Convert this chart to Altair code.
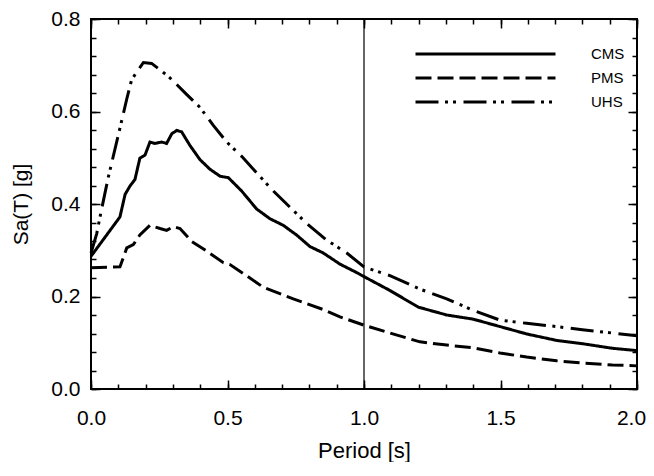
import altair as alt
import pandas as pd

# ---- data ----
cms_T = [0, 0.106, 0.125, 0.143, 0.161, 0.179, 0.198, 0.216, 0.234, 0.259, 0.277, 0.296, 0.314, 0.332,
         0.362, 0.399, 0.436, 0.473, 0.503, 0.552, 0.607, 0.656, 0.704, 0.753, 0.802, 0.851, 0.912,
         0.979, 1.0, 1.095, 1.199, 1.303, 1.40, 1.498, 1.596, 1.706, 1.80, 1.91, 2.0]
cms_Sa = [0.287, 0.372, 0.421, 0.439, 0.453, 0.499, 0.506, 0.534, 0.531, 0.534, 0.531, 0.552, 0.559, 0.556,
          0.527, 0.496, 0.475, 0.460, 0.457, 0.428, 0.389, 0.368, 0.354, 0.333, 0.308, 0.294, 0.270,
          0.250, 0.243, 0.213, 0.177, 0.160, 0.151, 0.135, 0.119, 0.105, 0.098, 0.088, 0.083]

pms_T = [0, 0.106, 0.131, 0.155, 0.179, 0.216, 0.253, 0.277, 0.302, 0.326, 0.369, 0.424, 0.485, 0.509,
         0.570, 0.631, 0.741, 0.85, 0.912, 1.0, 1.095, 1.205, 1.303, 1.40, 1.498, 1.596, 1.706, 1.80,
         1.91, 2.0]
pms_Sa = [0.262, 0.264, 0.305, 0.312, 0.333, 0.354, 0.347, 0.343, 0.351, 0.347, 0.319, 0.298, 0.273, 0.269,
          0.245, 0.220, 0.195, 0.172, 0.156, 0.138, 0.121, 0.102, 0.095, 0.089, 0.078, 0.069, 0.061, 0.056,
          0.052, 0.050]

uhs_T = [0, 0.021, 0.033, 0.063, 0.1, 0.131, 0.149, 0.192, 0.222, 0.283, 0.308, 0.350, 0.399, 0.448,
         0.497, 0.552, 0.607, 0.668, 0.729, 0.790, 0.863, 0.937, 1.0, 1.095, 1.205, 1.303, 1.40, 1.498,
         1.596, 1.706, 1.80, 1.91, 2.0]
uhs_Sa = [0.294, 0.336, 0.372, 0.457, 0.549, 0.627, 0.669, 0.706, 0.704, 0.676, 0.662, 0.637, 0.609, 0.570,
          0.534, 0.503, 0.467, 0.428, 0.393, 0.358, 0.322, 0.294, 0.264, 0.245, 0.216, 0.195, 0.170, 0.149,
          0.142, 0.135, 0.128, 0.121, 0.115]

series_names = ["CMS", "PMS", "UHS"]
ref_period = [1.0]

x_major = [0, 0.5, 1.0, 1.5, 2.0]
x_minor = [round(0.1 * i, 1) for i in range(21)]
y_major = [0, 0.2, 0.4, 0.6, 0.8]
y_minor = [round(0.04 * i, 2) for i in range(21)]

rows = []
for name, T, S in zip(series_names, [cms_T, pms_T, uhs_T], [cms_Sa, pms_Sa, uhs_Sa]):
    for i, (t, s) in enumerate(zip(T, S)):
        rows.append({"series": name, "T": t, "Sa": s, "order": i})
df = pd.DataFrame(rows)
ref_df = pd.DataFrame({"T": ref_period})

W, H = 546, 370
FONT = "Liberation Sans"

xscale = alt.Scale(domain=[0, 2], nice=False, zero=False)
yscale = alt.Scale(domain=[0, 0.8], nice=False, zero=False)

dash_scale = alt.Scale(domain=series_names,
                       range=[[1, 0], [16, 6], [23, 6.5, 3, 5, 3, 7.5]])

main = alt.Chart(df).mark_line(color="black", strokeWidth=3, strokeCap="butt").encode(
    x=alt.X("T:Q", scale=xscale,
            axis=alt.Axis(orient="bottom", values=x_major, format=".1f", ticks=False, tickSize=0,
                          domain=False, grid=False, labelFont=FONT, labelFontSize=21, labelColor="black",
                          labelPadding=18, labelFlush=False,
                          labelOffset={"condition": {"test": "datum.value >= 2", "value": -6}, "value": 0},
                          title="Period [s]", titleFont=FONT, titleFontSize=22,
                          titleFontWeight="normal", titleColor="black",
                          titleY=68, titleBaseline="alphabetic")),
    y=alt.Y("Sa:Q", scale=yscale,
            axis=alt.Axis(orient="left", values=y_major, format=".1f", ticks=False, tickSize=0,
                          domain=False, grid=False, labelFont=FONT, labelFontSize=21, labelColor="black",
                          labelPadding=11, labelFlush=False, title="Sa(T) [g]", titleFont=FONT,
                          titleFontSize=21, titleFontWeight="normal", titleColor="black",
                          titlePadding=19)),
    strokeDash=alt.StrokeDash("series:N", scale=dash_scale,
                              legend=alt.Legend(orient="none", legendX=323, legendY=27, title=None,
                                                symbolType="stroke", symbolSize=19600, symbolStrokeWidth=3,
                                                symbolStrokeColor="black", labelFont=FONT, labelFontSize=15,
                                                labelColor="black", labelOffset=34, rowPadding=8,
                                                clipHeight=16, padding=0, direction="vertical")),
    detail="series:N",
    order="order:Q",
)

ref = alt.Chart(ref_df).mark_rule(color="black", strokeWidth=1.2).encode(
    x=alt.X("T:Q", scale=xscale, axis=None)
)


def tick_layer(xorient, xoff, xvals, yorient, yoff, yvals, size):
    return alt.Chart(df).mark_point(opacity=0).encode(
        x=alt.X("T:Q", scale=xscale,
                axis=alt.Axis(orient=xorient, offset=xoff, values=xvals, labels=False, domain=False,
                              grid=False, ticks=True, tickSize=size, tickColor="black", tickWidth=1.5,
                              title=None)),
        y=alt.Y("Sa:Q", scale=yscale,
                axis=alt.Axis(orient=yorient, offset=yoff, values=yvals, labels=False, domain=False,
                              grid=False, ticks=True, tickSize=size, tickColor="black", tickWidth=1.5,
                              title=None)),
    )


t1 = tick_layer("top", -H, x_major, "right", -W, y_major, 9)
t2 = tick_layer("top", -H, x_minor, "right", -W, y_minor, 5)
t3 = tick_layer("bottom", -H, x_major, "left", -W, y_major, 9)
t4 = tick_layer("bottom", -H, x_minor, "left", -W, y_minor, 5)

chart = alt.layer(main, ref, t1, t2, t3, t4).resolve_axis(
    x="independent", y="independent"
).properties(
    width=W, height=H,
    autosize=alt.AutoSizeParams(type="none"),
    padding={"left": 83, "top": 11, "right": 9, "bottom": 73},
    background="white",
).configure_view(stroke="black", strokeWidth=2)

chart.save("out.html", embed_options={"renderer": "svg", "actions": False})
